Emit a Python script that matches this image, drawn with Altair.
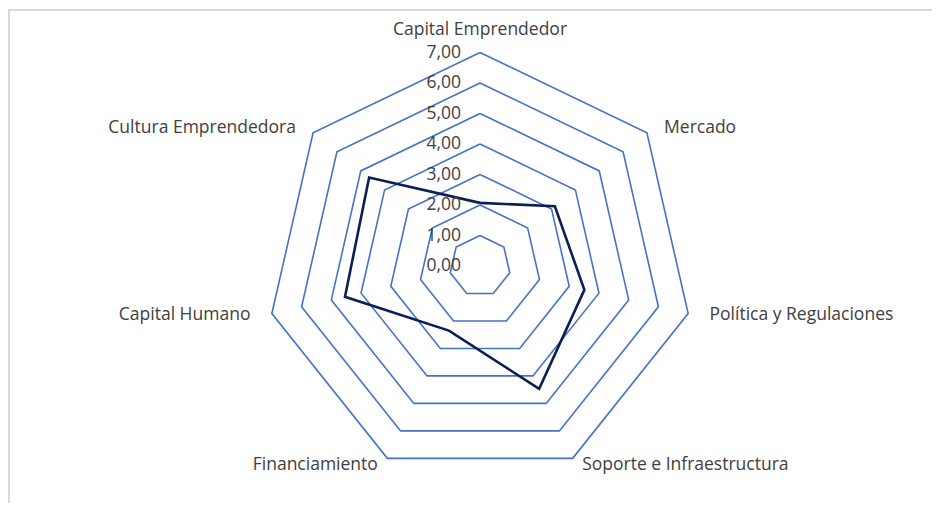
import math
import altair as alt
import pandas as pd

# ---- data ----
categories = [
    "Capital Emprendedor",
    "Mercado",
    "Política y Regulaciones",
    "Soporte e Infraestructura",
    "Financiamiento",
    "Capital Humano",
    "Cultura Emprendedora",
]
values = [2.07, 3.14, 3.51, 4.47, 2.35, 4.54, 4.65]
ring_levels = [1, 2, 3, 4, 5, 6, 7]
tick_values = [0, 1, 2, 3, 4, 5, 6, 7]

n = len(categories)

series_df = pd.DataFrame({
    "cat": categories + [categories[0]],
    "idx": list(range(n)) + [0],
    "ord": list(range(n + 1)),
    "value": values + [values[0]],
})

grid_rows = []
for lv in ring_levels:
    for k in range(n + 1):
        grid_rows.append({"level": lv, "idx": k % n, "ord": k})
grid_df = pd.DataFrame(grid_rows)

ticks_df = pd.DataFrame({"level": tick_values})
labels_df = pd.DataFrame({"cat": categories, "idx": list(range(n))})

# ---- layout ----
W, H = 924, 495
CX, CY = 472, 258      # centre in plot pixels
UNIT = 30.5            # pixels per value unit
xdom = [-CX / UNIT, (W - CX) / UNIT]
ydom = [-(H - CY) / UNIT, CY / UNIT]

FONT = "Open Sans"
FS = 17.5
TXT = "#404040"
GRID = "#4472C4"
SERIES = "#0B1F55"

ANG = f"datum.idx * 2 * PI / {n}"

xs = alt.Scale(domain=xdom, nice=False, zero=False)
ys = alt.Scale(domain=ydom, nice=False, zero=False)


def X(f):
    return alt.X(f"{f}:Q", scale=xs, axis=None)


def Y(f):
    return alt.Y(f"{f}:Q", scale=ys, axis=None)


grid = alt.Chart(grid_df).transform_calculate(
    px=f"datum.level * sin({ANG})",
    py=f"datum.level * cos({ANG})",
).mark_line(color=GRID, strokeWidth=1.6).encode(
    x=X("px"), y=Y("py"), detail="level:N", order="ord:Q"
)

line = alt.Chart(series_df).transform_calculate(
    px=f"datum.value * sin({ANG})",
    py=f"datum.value * cos({ANG})",
).mark_line(color=SERIES, strokeWidth=2.6).encode(
    x=X("px"), y=Y("py"), order="ord:Q"
)

ticks = alt.Chart(ticks_df).transform_calculate(
    px="0",
    txt="replace(format(datum.level, '.2f'), '.', ',')",
).mark_text(align="right", baseline="middle", dx=-19, font=FONT, fontSize=FS, color=TXT).encode(
    x=X("px"), y=Y("level"), text="txt:N"
)

lab_base = alt.Chart(labels_df).transform_calculate(
    s=f"sin({ANG})",
    px=f"7.72 * sin({ANG})",
    py=f"7.25 * cos({ANG})",
)

lab_center = lab_base.transform_filter("abs(datum.s) < 0.1").mark_text(
    align="center", baseline="middle", dy=-15, font=FONT, fontSize=FS, color=TXT
).encode(x=X("px"), y=Y("py"), text="cat:N")

lab_left = lab_base.transform_filter("datum.s >= 0.1").mark_text(
    align="left", baseline="middle", font=FONT, fontSize=FS, color=TXT
).encode(x=X("px"), y=Y("py"), text="cat:N")

lab_right = lab_base.transform_filter("datum.s <= -0.1").mark_text(
    align="right", baseline="middle", font=FONT, fontSize=FS, color=TXT
).encode(x=X("px"), y=Y("py"), text="cat:N")

one = pd.DataFrame({"a": [0]})
border_left = alt.Chart(one).mark_rule(color="#D9D9D9", strokeWidth=2).encode(
    x=alt.value(1), y=alt.value(1), y2=alt.value(H)
)
border_top = alt.Chart(one).mark_rule(color="#D9D9D9", strokeWidth=2).encode(
    y=alt.value(2), x=alt.value(0), x2=alt.value(W)
)

chart = alt.layer(
    border_left, border_top, grid, line, ticks, lab_center, lab_left, lab_right
).properties(
    width=W, height=H, padding=0, autosize=alt.AutoSizeParams(type="none")
).configure_view(stroke=None)

chart.save("out.html", embed_options={"renderer": "svg", "actions": False})
